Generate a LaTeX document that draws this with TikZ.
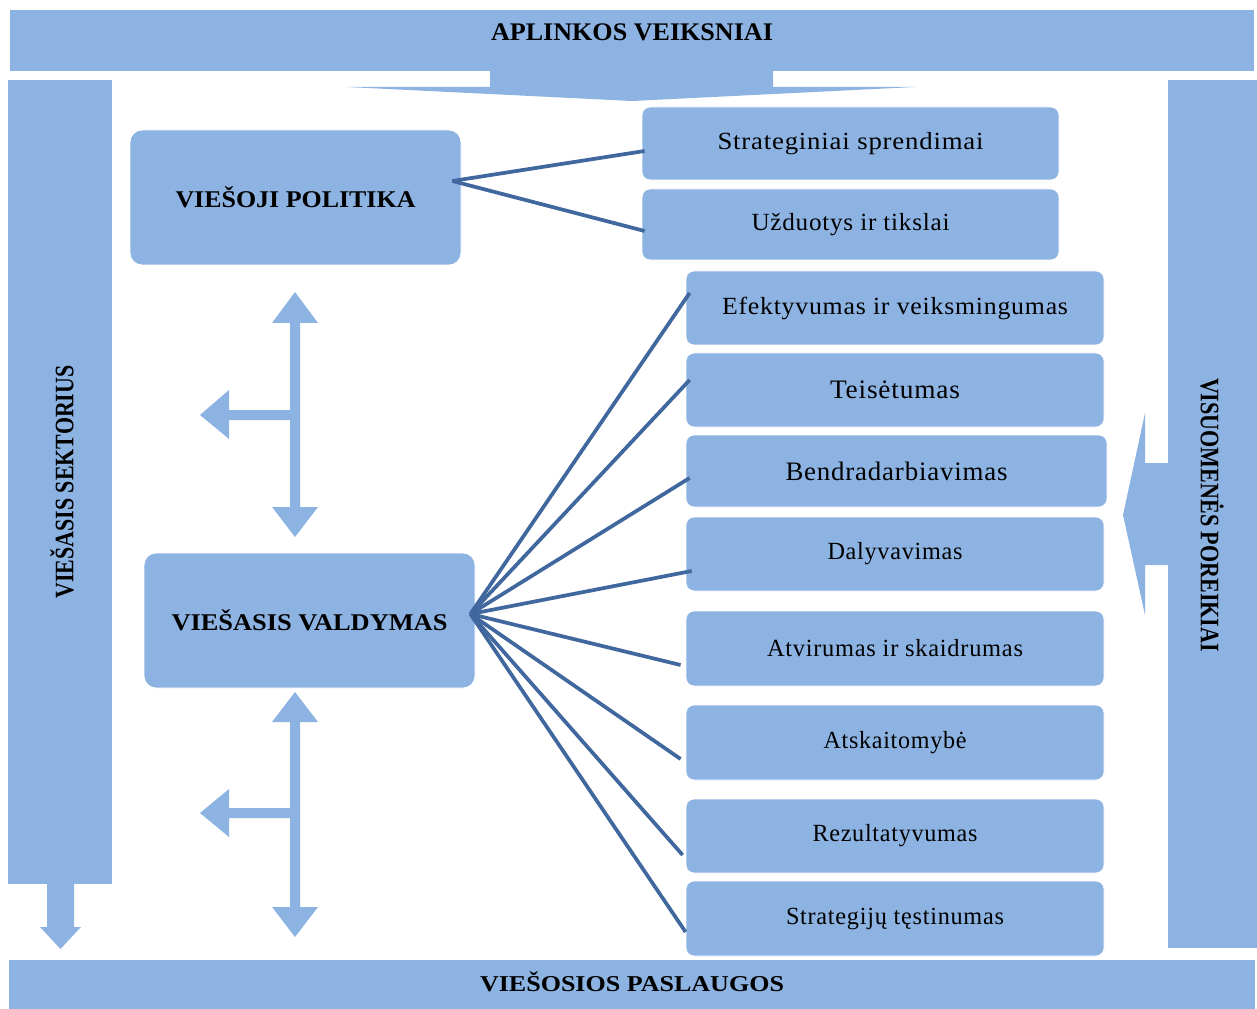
\documentclass[tikz,border=0pt]{standalone}
\usepackage{fontspec}
\setmainfont{Liberation Serif}
\newfontfamily\spc[LetterSpace=3]{Liberation Serif}
\usetikzlibrary{calc}
\definecolor{fillb}{RGB}{141,179,226}
\definecolor{lineb}{RGB}{65,104,158}
\newsavebox\fitbox
\newcommand\fitw[2]{\sbox\fitbox{#2}\pgfmathsetmacro\fitr{#1*0.75/\the\wd\fitbox}\scalebox{\fitr}[1]{\usebox\fitbox}}
\tikzset{
  shapefill/.style={fill=fillb, draw=none},
  bigbox/.style={fill=fillb, draw=white, line width=0.6pt, rounded corners=9pt, inner sep=0pt,
    font=\fontsize{18}{21}\selectfont\bfseries},
  smallbox/.style={fill=fillb, draw=white, line width=0.6pt, rounded corners=6pt, inner sep=0pt,
    font=\fontsize{18.5}{21}\selectfont\spc},
  bigfont/.style={font=\fontsize{20}{23}\selectfont\spc},
  headtext/.style={inner sep=0pt, font=\fontsize{17}{20}\selectfont\bfseries},
  bartext/.style={inner sep=0pt, font=\fontsize{20}{23}\selectfont\bfseries},
  conn/.style={draw=lineb, line width=2.8pt},
  sz/.style 2 args={minimum width=#1*0.75pt, minimum height=#2*0.75pt},
}
\begin{document}
\begin{tikzpicture}[x=0.75pt, y=-0.75pt]
\useasboundingbox (0,0) rectangle (1257,1009);

% top banner with arrow
\fill[shapefill] (10,10) rectangle (1254,71);
\fill[shapefill] (490,70) -- (490,87) -- (347,87) -- (632,101) -- (915,87) -- (773,87) -- (773,70) -- cycle;
\node[bartext, font=\fontsize{19}{22}\selectfont\bfseries] (env) at (632,32) {\fitw{282}{APLINKOS VEIKSNIAI}};

% bottom banner
\fill[shapefill] (9,960) rectangle (1255,1009);
\node[headtext] (serv) at (632,982) {\fitw{304}{VIEŠOSIOS PASLAUGOS}};

% left bar with down arrow
\fill[shapefill] (8,80) rectangle (112,884);
\fill[shapefill] (47,883) -- (47,927) -- (40,927) -- (60.5,949) -- (81,927) -- (74,927) -- (74,883) -- cycle;
\node[bartext, rotate=90] (sector) at (62,482) {\fitw{233}{VIEŠASIS SEKTORIUS}};

% right bar with left arrow
\fill[shapefill] (1168,80) rectangle (1257,948);
\fill[shapefill] (1169,463) -- (1145,463) -- (1145,413) -- (1123,515) -- (1145,615) -- (1145,565) -- (1169,565) -- cycle;
\node[bartext, rotate=-90] (needs) at (1212,515) {\fitw{274}{VISUOMENĖS POREIKIAI}};

% branching double arrows
\fill[shapefill] (295,292) -- (318,323) -- (300,323) -- (300,507) -- (318,507) -- (295,537) -- (272,507) -- (290,507)
  -- (290,420) -- (229,420) -- (229,439) -- (200,415) -- (229,390) -- (229,410) -- (290,410) -- (290,323) -- (272,323) -- cycle;
\fill[shapefill] (295,692) -- (318,722) -- (300,722) -- (300,907) -- (318,907) -- (295,937) -- (272,907) -- (290,907)
  -- (290,818) -- (229,818) -- (229,837) -- (200,813) -- (229,789) -- (229,808) -- (290,808) -- (290,722) -- (272,722) -- cycle;

% main boxes
\node[bigbox, sz={331}{135}] (vp) at (295.5,197.5) {\fitw{240}{VIEŠOJI POLITIKA}};
\node[bigbox, sz={331}{135}] (vv) at (309.5,620.5) {\fitw{276}{VIEŠASIS VALDYMAS}};

% policy boxes
\node[smallbox, sz={417}{73}] (s1) at (850.5,143.5) {\fitw{266}{Strateginiai sprendimai}};
\node[smallbox, sz={417}{71}] (s2) at (850.5,224.5) {\fitw{198}{Užduotys ir tikslai}};

% governance boxes
\node[smallbox, sz={418}{74}] (r1) at (895,308) {\fitw{346}{Efektyvumas ir veiksmingumas}};
\node[smallbox, bigfont, sz={418}{74}] (r2) at (895,390) {\fitw{130}{Teisėtumas}};
\node[smallbox, bigfont, sz={421}{72}] (r3) at (896.5,471) {\fitw{222}{Bendradarbiavimas}};
\node[smallbox, sz={418}{74}] (r4) at (895,554) {\fitw{135}{Dalyvavimas}};
\node[smallbox, sz={418}{75}] (r5) at (895,648.5) {\fitw{256}{Atvirumas ir skaidrumas}};
\node[smallbox, sz={418}{75}] (r6) at (895,742.5) {\fitw{143}{Atskaitomybė}};
\node[smallbox, sz={418}{74}] (r7) at (895,836) {\fitw{165}{Rezultatyvumas}};
\node[smallbox, sz={418}{75}] (r8) at (895,918.5) {\fitw{218}{Strategijų tęstinumas}};

% hubs
\coordinate (vphub) at ($(vp.east)+(-9,-16.5)$);
\coordinate (vvhub) at ($(vv.east)+(-5,-6.5)$);

% connectors
\draw[conn] (vphub) -- ($(s1.west)+(3,7.5)$);
\draw[conn] (vphub) -- ($(s2.west)+(3,6.5)$);
\draw[conn] (vvhub) -- ($(r1.west)+(4,-15)$);
\draw[conn] (vvhub) -- ($(r2.west)+(4,-10)$);
\draw[conn] (vvhub) -- ($(r3.west)+(4,7)$);
\draw[conn] (vvhub) -- ($(r4.west)+(6,17)$);
\draw[conn] (vvhub) -- ($(r5.west)+(-5,16.5)$);
\draw[conn] (vvhub) -- ($(r6.west)+(-5,16.5)$);
\draw[conn] (vvhub) -- ($(r7.west)+(-3,19)$);
\draw[conn] (vvhub) -- ($(r8.west)+(0,13.5)$);
\end{tikzpicture}
\end{document}
